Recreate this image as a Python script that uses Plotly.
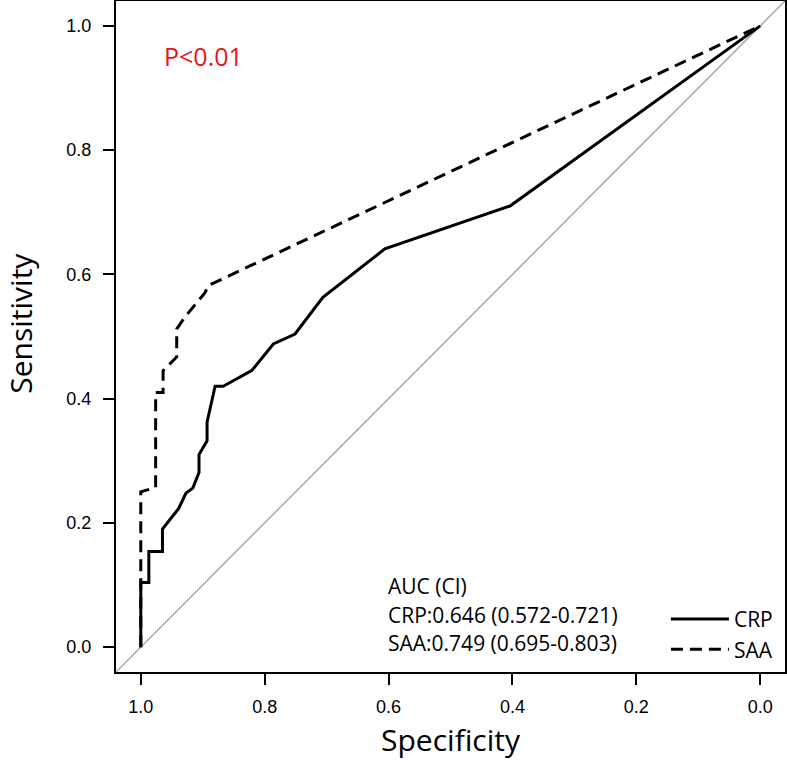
import plotly.graph_objects as go

# ROC curve points (specificity, sensitivity)
crp_spec = [1.0, 1.0, 0.987, 0.987, 0.965, 0.965, 0.939, 0.927, 0.916, 0.906, 0.906,
            0.893, 0.893, 0.880, 0.867, 0.821, 0.786, 0.751, 0.706, 0.606, 0.404, 0.0]
crp_sens = [0.0, 0.104, 0.104, 0.154, 0.154, 0.190, 0.223, 0.248, 0.256, 0.281, 0.310,
            0.332, 0.362, 0.420, 0.420, 0.445, 0.488, 0.504, 0.563, 0.641, 0.710, 1.0]

saa_spec = [1.0, 1.0, 0.976, 0.976, 0.964, 0.964, 0.942, 0.942, 0.929, 0.896, 0.891, 0.0]
saa_sens = [0.0, 0.250, 0.257, 0.410, 0.410, 0.445, 0.467, 0.512, 0.531, 0.571, 0.582, 1.0]

tick_vals = [0.0, 0.2, 0.4, 0.6, 0.8, 1.0]
tick_text = ["0.0", "0.2", "0.4", "0.6", "0.8", "1.0"]

auc_lines = ["AUC (CI)", "CRP:0.646 (0.572-0.721)", "SAA:0.749 (0.695-0.803)"]
auc_y = [0.099, 0.051, 0.006]
p_text = "P<0.01"

fig = go.Figure()
fig.add_trace(go.Scatter(x=crp_spec, y=crp_sens, mode="lines", name="CRP",
                         line=dict(color="black", width=3)))
fig.add_trace(go.Scatter(x=saa_spec, y=saa_sens, mode="lines", name="SAA",
                         line=dict(color="black", width=3, dash="12px,7px")))

# reference diagonal
fig.add_shape(type="line", xref="paper", yref="paper", x0=0, y0=0, x1=1, y1=1,
              line=dict(color="#aaaaaa", width=1.5), layer="below")

for txt, yy in zip(auc_lines, auc_y):
    fig.add_annotation(x=0.604, y=yy, text=txt, showarrow=False, xanchor="left",
                       yanchor="middle", font=dict(family="Open Sans", size=21, color="black"))

fig.add_annotation(x=0.898, y=0.952, text=p_text, showarrow=False, xanchor="center",
                   yanchor="middle", font=dict(family="Open Sans", size=25, color="#e8141a"))

# y-axis title
fig.add_annotation(xref="paper", yref="paper", x=-0.144, y=0.52, text="Sensitivity",
                   textangle=-90, showarrow=False, xanchor="center", yanchor="middle",
                   font=dict(family="Open Sans", size=30, color="black"))

axis_common = dict(showline=True, mirror=True, linecolor="black", linewidth=2,
                   ticks="outside", ticklen=11, tickwidth=2, tickcolor="black",
                   showgrid=False, zeroline=False, automargin=False,
                   tickvals=tick_vals, ticktext=tick_text,
                   tickfont=dict(family="Liberation Sans", size=18, color="black"))

fig.update_xaxes(range=[1.04, -0.04], ticklabelstandoff=6,
                 title=dict(text="Specificity", standoff=14,
                            font=dict(family="Open Sans", size=30, color="black")),
                 **axis_common)
fig.update_yaxes(range=[-0.04, 1.04], ticklabelstandoff=8, **axis_common)

fig.update_layout(
    width=787, height=764,
    margin=dict(l=116, r=2, t=1, b=92),
    plot_bgcolor="white", paper_bgcolor="white",
    legend=dict(x=0.822, y=0.109, xanchor="left", yanchor="top",
                bgcolor="rgba(0,0,0,0)", itemwidth=58,
                font=dict(family="Open Sans", size=21, color="black"),
                tracegroupgap=0),
)

fig.write_html("out.html", config={"displayModeBar": False},
               post_script="document.body.style.margin='0';document.body.style.overflow='hidden';")
